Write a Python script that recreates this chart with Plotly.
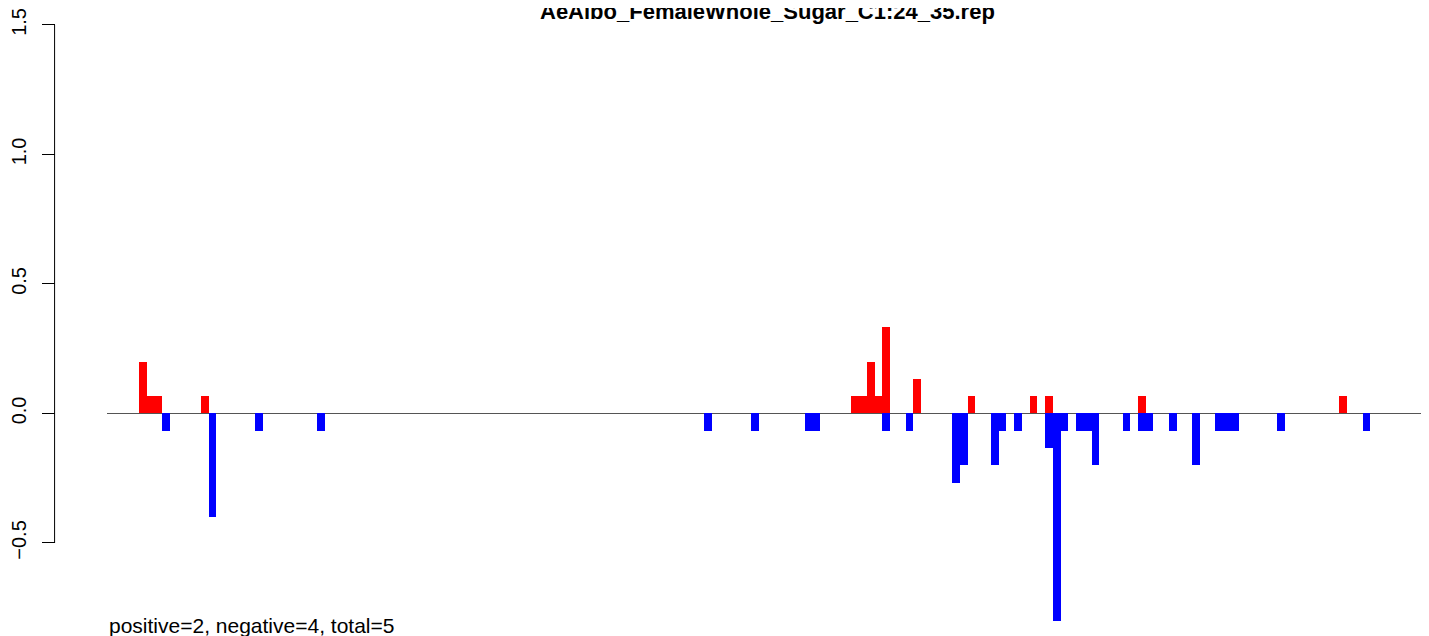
import plotly.graph_objects as go

# bin index (position along the sequence) and value
pos_bins = [0, 1, 2, 8, 92, 93, 94, 95, 96, 100, 107, 115, 117, 129, 155]
pos_vals = [0.2, 0.0667, 0.0667, 0.0667, 0.0667, 0.0667, 0.2, 0.0667, 0.3333,
            0.1333, 0.0667, 0.0667, 0.0667, 0.0667, 0.0667]

neg_bins = [3, 9, 15, 23, 73, 79, 86, 87, 96, 99, 105, 106, 110, 111, 113,
            117, 118, 119, 121, 122, 123, 127, 129, 130, 133, 136, 139, 140,
            141, 147, 158]
neg_vals = [-0.0667, -0.4, -0.0667, -0.0667, -0.0667, -0.0667, -0.0667, -0.0667,
            -0.0667, -0.0667, -0.2667, -0.2, -0.2, -0.0667, -0.0667,
            -0.1333, -0.8, -0.0667, -0.0667, -0.0667, -0.2, -0.0667, -0.0667,
            -0.0667, -0.0667, -0.2, -0.0667, -0.0667, -0.0667, -0.0667, -0.0667]

y_ticks = [-0.5, 0.0, 0.5, 1.0, 1.5]
y_tick_text = ["\u22120.5", "0.0", "0.5", "1.0", "1.5"]

title_text = "AeAlbo_FemaleWhole_Sugar_C1:24_35.rep"
footer_text = "positive=2, negative=4, total=5"

W, H = 1429, 636
OFF = 8  # page body margin offset
plot_left = 103 - OFF
plot_right = 1429 - OFF
axis_x = 50.7 - OFF
zero_px = 411.25 - OFF
px_per_unit = 261.5

fig = go.Figure()
fig.add_trace(go.Bar(x=pos_bins, y=pos_vals, width=1,
                     marker=dict(color="#FF0000", line=dict(width=0)),
                     showlegend=False))
fig.add_trace(go.Bar(x=neg_bins, y=neg_vals, width=1,
                     marker=dict(color="#0000FF", line=dict(width=0)),
                     showlegend=False))

FONT = "Liberation Sans, Arial, Helvetica, sans-serif"

fig.update_layout(
    width=W, height=H,
    margin=dict(l=0, r=0, t=0, b=0),
    paper_bgcolor="white", plot_bgcolor="white",
    barmode="overlay", bargap=0,
    font=dict(family=FONT, color="black"),
    xaxis=dict(domain=[plot_left / W, plot_right / W], range=[-4.62, 166.11],
               visible=False, showgrid=False, zeroline=False),
    yaxis=dict(range=[-(H - zero_px) / px_per_unit, zero_px / px_per_unit],
               anchor="free", position=axis_x / W,
               showgrid=False, showline=False,
               zeroline=True, zerolinecolor="#555555", zerolinewidth=1,
               ticks="outside", ticklen=13, tickwidth=1, tickcolor="black",
               ticklabelstandoff=8, ticklabeloverflow="allow",
               tickvals=y_ticks, ticktext=y_tick_text, tickangle=-90,
               tickfont=dict(size=20, family=FONT, color="black")),
    shapes=[dict(type="line", xref="paper", yref="y",
                 x0=axis_x / W, x1=axis_x / W, y0=y_ticks[0], y1=y_ticks[-1],
                 line=dict(color="black", width=1))],
    annotations=[
        dict(text="<b>" + title_text + "</b>", xref="paper", yref="paper",
             x=(plot_left + plot_right) / 2 / W, y=1 - (5.5 - OFF) / H,
             xanchor="center", yanchor="middle", showarrow=False,
             font=dict(size=22, family=FONT, color="black")),
        dict(text=footer_text, xref="paper", yref="paper",
             x=plot_left / W, y=(H - (625.5 - OFF)) / H, xanchor="left",
             yanchor="middle", showarrow=False,
             font=dict(size=21, family=FONT, color="black")),
    ],
)

fig.write_html("out.html")
